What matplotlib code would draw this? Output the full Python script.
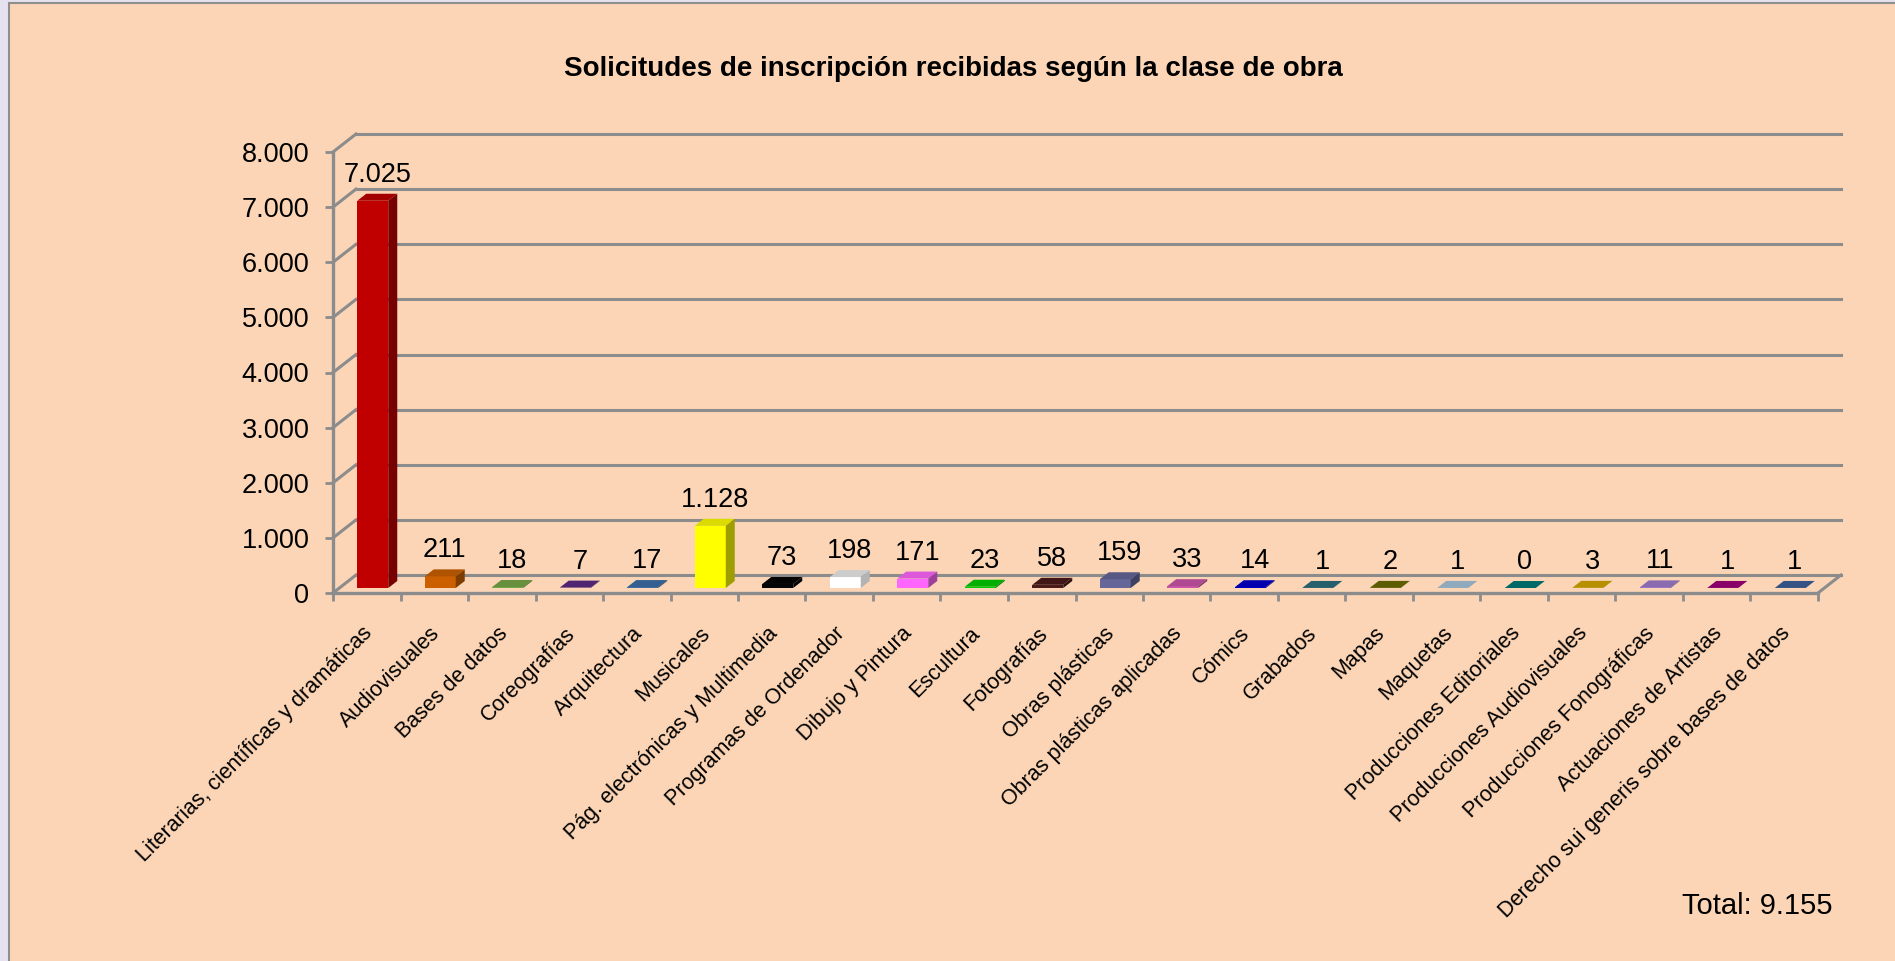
import numpy as np
import matplotlib
matplotlib.use("Agg")
from matplotlib import pyplot as plt
from matplotlib.patches import Polygon, Rectangle
from matplotlib.colors import to_rgb

plt.rcParams['font.family'] = ['Liberation Sans', 'DejaVu Sans']

# --- Données ---
categorias = [
    "Literarias, científicas y dramáticas", "Audiovisuales", "Bases de datos",
    "Coreografías", "Arquitectura", "Musicales", "Pág. electrónicas y Multimedia",
    "Programas de Ordenador", "Dibujo y Pintura", "Escultura", "Fotografías",
    "Obras plásticas", "Obras plásticas aplicadas", "Cómics", "Grabados", "Mapas",
    "Maquetas", "Producciones Editoriales", "Producciones Audiovisuales",
    "Producciones Fonográficas", "Actuaciones de Artistas",
    "Derecho sui generis sobre bases de datos",
]
solicitudes = [7025, 211, 18, 7, 17, 1128, 73, 198, 171, 23, 58, 159, 33, 14, 1, 2, 1, 0, 3, 11, 1, 1]
colores = [
    "#C00000", "#CC6000", "#77A748", "#5C2A82", "#3E6FA8", "#FFFF00", "#050505",
    "#FFFFFF", "#FF66FF", "#00CC00", "#4B1A1A", "#666699", "#CC55AA", "#0000CC",
    "#2E6E7E", "#6B6B00", "#A6C4DC", "#007A78", "#D4A800", "#A07CCC", "#A0007A",
    "#3E5F99",
]
yticks = [0, 1000, 2000, 3000, 4000, 5000, 6000, 7000, 8000]
total = 9155

GRIS = "#8C8C8C"
FONDO = "#FBD5B5"

W, H = 1895, 961
fig = plt.figure(figsize=(W / 100, H / 100), dpi=100)
fig.patch.set_facecolor("#E6E1EE")
fondo = Rectangle((9 / W, -0.01), 1.0, 1 - 3 / H + 0.01, transform=fig.transFigure,
                  facecolor=FONDO, edgecolor="#8E8E8E", linewidth=1.5, zorder=-5)
fig.add_artist(fondo)

# zona del gráfico (frente)
x0, x1, ytop, ybot = 333, 1818, 152, 593
ax = fig.add_axes([x0 / W, (H - ybot) / H, (x1 - x0) / W, (ybot - ytop) / H])
ax.set_zorder(2)
ax.set_facecolor("none")
n = len(categorias)
ax.set_xlim(-0.5, n - 0.5)
ax.set_ylim(0, 8000)

px_x = (x1 - x0) / n          # px por categoría
px_y = (ybot - ytop) / 8000   # px por unidad

def dx(p):
    return p / px_x

def dy(p):
    return p / px_y

# pared del fondo
bx, by = dx(23), dy(18)
for v in yticks:
    ax.plot([-0.5 + bx, n - 0.5 + bx], [v + by, v + by], color=GRIS, lw=2.2, clip_on=False, zorder=1)
    ax.plot([-0.5, -0.5 + bx], [v, v + by], color=GRIS, lw=2.2, clip_on=False, zorder=1)
ax.plot([n - 0.5, n - 0.5 + bx], [0, by], color=GRIS, lw=2.2, clip_on=False, zorder=1)

# barras 3D
x = np.arange(n)
w = 31 / px_x
fx, fy = dx(6), dy(5)
ddx, ddy = dx(9), dy(7)
ax.bar(x + fx, solicitudes, width=w, bottom=fy, color=colores, zorder=3, clip_on=False)
for i, v in enumerate(solicitudes):
    c = np.array(to_rgb(colores[i]))
    if c.min() > 0.95:
        top_c, side_c = (0.80, 0.80, 0.80), (0.70, 0.70, 0.70)
    else:
        top_c, side_c = c * 0.86, c * 0.62
    xl, xr = i + fx - w / 2, i + fx + w / 2
    yb, yt = fy, fy + v
    ax.add_patch(Polygon([(xl, yt), (xr, yt), (xr + ddx, yt + ddy), (xl + ddx, yt + ddy)],
                         closed=True, facecolor=top_c, edgecolor="none", zorder=3, clip_on=False))
    ax.add_patch(Polygon([(xr, yb), (xr + ddx, yb + ddy), (xr + ddx, yt + ddy), (xr, yt)],
                         closed=True, facecolor=side_c, edgecolor="none", zorder=3, clip_on=False))
    ax.text(i + fx + ddx / 2, yt + ddy + dy(6), f"{v:,}".replace(",", "."),
            ha="center", va="bottom", fontsize=19.5, zorder=5)

# ejes
for s in ["top", "right"]:
    ax.spines[s].set_visible(False)
for s in ["left", "bottom"]:
    ax.spines[s].set_color(GRIS)
    ax.spines[s].set_linewidth(2.4)
ax.set_yticks(yticks)
ax.set_yticklabels([f"{v:,}".replace(",", ".") for v in yticks], fontsize=19.5)
ax.tick_params(axis="y", length=6, width=2, color=GRIS, pad=11)
ax.set_xticks(np.arange(n + 1) - 0.5)
ax.set_xticklabels([])
ax.tick_params(axis="x", length=6, width=2, color=GRIS)

for i, cat in enumerate(categorias):
    ax.text(i - dx(5), -dy(30), cat, rotation=45, rotation_mode="anchor",
            ha="right", va="top", fontsize=15.5, clip_on=False)

fig.text(953 / W, 1 - 69 / H, "Solicitudes de inscripción recibidas según la clase de obra",
         ha="center", va="center", fontsize=20, fontweight="bold")
fig.text(1832 / W, 1 - 906 / H, f"Total: {total:,}".replace(",", "."),
         ha="right", va="center", fontsize=21)

fig.savefig("out.png", dpi=100, facecolor=fig.get_facecolor())
plt.close(fig)
